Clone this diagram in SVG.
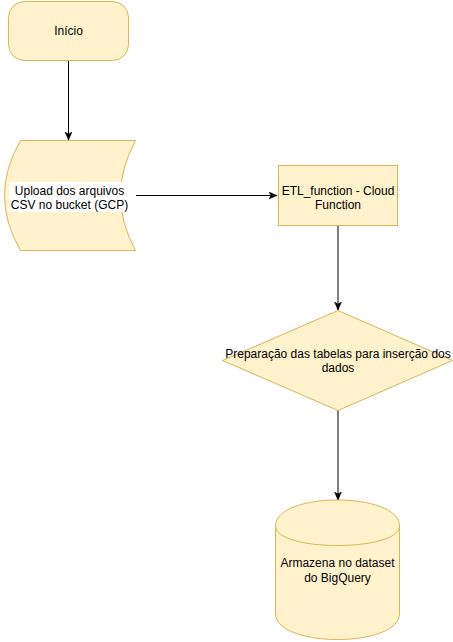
<svg xmlns="http://www.w3.org/2000/svg" width="453" height="642" viewBox="0 0 453 642">
  <style>
    .shape { fill: #fff2cc; stroke: #d6b656; stroke-width: 1; }
    .lbl { font-family: "Liberation Sans", Arial, sans-serif; font-size: 12px; fill: #000000; text-anchor: middle; }
    .edge { fill: none; stroke: #000000; stroke-width: 1; }
  </style>
  <defs>
    <marker id="arrow" markerUnits="userSpaceOnUse" markerWidth="10" markerHeight="10" refX="8" refY="3.5" orient="auto">
      <path d="M0,0 L8,3.5 L0,7 L2,3.5 Z" fill="#000000" stroke="#000000" stroke-width="0.5"/>
    </marker>
  </defs>
  <rect width="453" height="642" fill="#ffffff"/>

  <g id="connectors">
    <line class="edge" x1="68.5" y1="60" x2="68.5" y2="140" marker-end="url(#arrow)"/>
    <line class="edge" x1="136" y1="195.5" x2="277" y2="195.5" marker-end="url(#arrow)"/>
    <line class="edge" x1="338" y1="225" x2="338" y2="310" marker-end="url(#arrow)"/>
    <line class="edge" x1="338" y1="410" x2="338" y2="500" marker-end="url(#arrow)"/>
  </g>

  <g id="inicio">
    <rect class="shape" x="8.5" y="1.5" width="120" height="59" rx="16" ry="16"/>
    <text class="lbl" x="68.5" y="34.5">Início</text>
  </g>

  <g id="upload">
    <path class="shape" d="M20.5,140.5 L135.5,140.5 Q105.5,195.5 135.5,250.5 L20.5,250.5 Q-11.5,195.5 20.5,140.5 Z"/>
    <rect x="9" y="182" width="122" height="30" fill="#ffffff"/>
    <text class="lbl" x="69.5" y="194.5">Upload dos arquivos</text>
    <text class="lbl" x="69.5" y="208.5">CSV no bucket (GCP)</text>
  </g>

  <g id="etl">
    <rect class="shape" x="278.5" y="165.5" width="119" height="60"/>
    <text class="lbl" x="338" y="194.5">ETL_function - Cloud</text>
    <text class="lbl" x="338" y="208.5">Function</text>
  </g>

  <g id="preparacao">
    <polygon class="shape" points="338,310.5 452.5,360.5 338,410.5 222.5,360.5"/>
    <text class="lbl" x="338" y="357.5">Preparação das tabelas para inserção dos</text>
    <text class="lbl" x="338" y="372">dados</text>
  </g>

  <g id="armazena">
    <path class="shape" d="M275.5,526 C275.5,491.3 399.5,491.3 399.5,526 L399.5,613.5 C399.5,648.2 275.5,648.2 275.5,613.5 Z"/>
    <path class="shape" d="M275.5,526 C275.5,552 399.5,552 399.5,526" style="fill:none"/>
    <text class="lbl" x="337.5" y="567">Armazena no dataset</text>
    <text class="lbl" x="337.5" y="582">do BigQuery</text>
  </g>
</svg>
